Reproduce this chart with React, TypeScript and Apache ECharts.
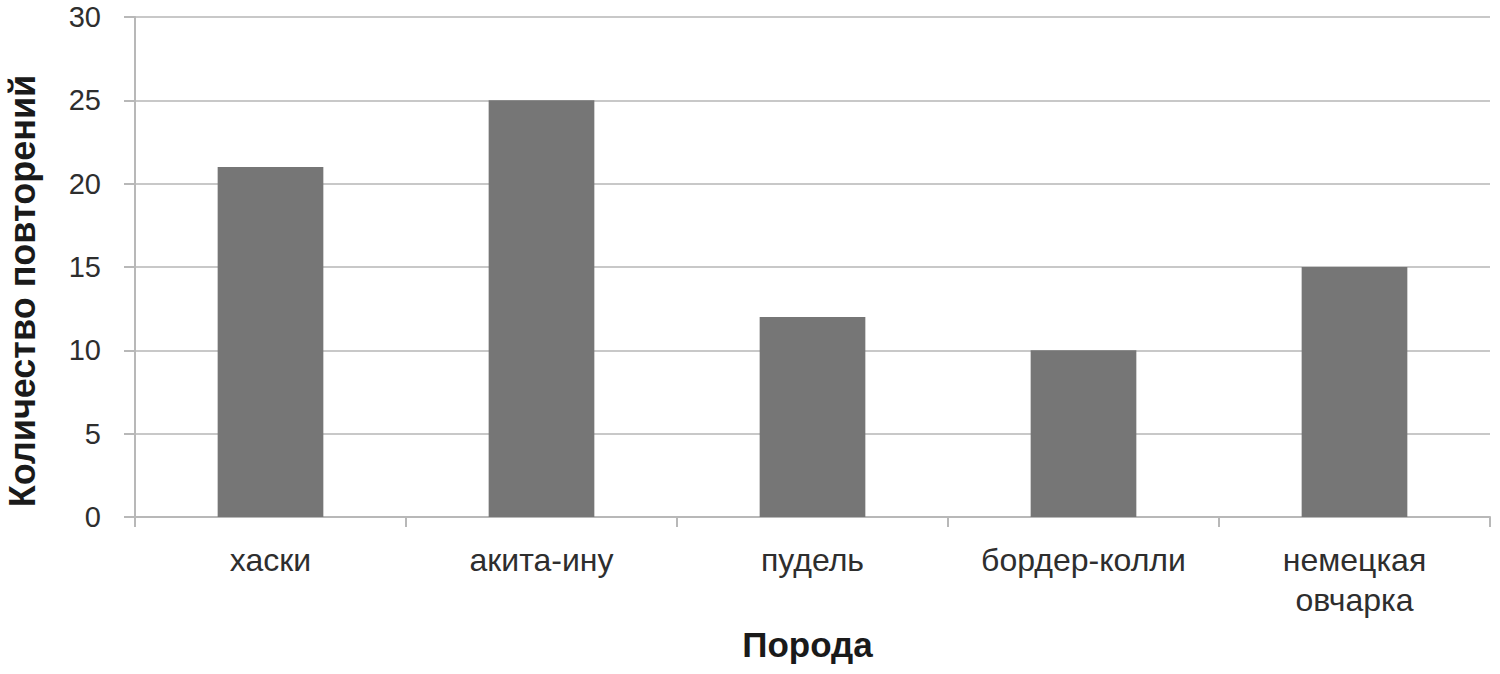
import React, { useEffect, useRef } from "react";
import * as echarts from "echarts";

const categories = ["хаски", "акита-ину", "пудель", "бордер-колли", "немецкая\nовчарка"];
const counts = [21, 25, 12, 10, 15];
const yTicks = [0, 5, 10, 15, 20, 25, 30];

export default function App() {
  const ref = useRef<HTMLDivElement>(null);
  useEffect(() => {
    if (!ref.current) return;
    const chart = echarts.init(ref.current, undefined, { renderer: "svg" });
    chart.setOption({
      animation: false,
      backgroundColor: "#ffffff",
      grid: { left: 135, right: 10, top: 17, bottom: 157, containLabel: false, outerBoundsMode: "none" },
      xAxis: {
        type: "category",
        data: categories,
        boundaryGap: true,
        name: "Порода",
        nameLocation: "middle",
        nameGap: 110,
        nameTextStyle: {
          fontFamily: "Liberation Sans",
          fontSize: 35,
          fontWeight: "bold",
          color: "#1a1a1a",
          padding: [0, 10, 0, 0],
        },
        axisLine: { lineStyle: { color: "#b8b8b8", width: 2 } },
        axisTick: { show: true, alignWithLabel: false, length: 10, lineStyle: { color: "#b8b8b8", width: 2 } },
        axisLabel: {
          fontFamily: "Liberation Sans",
          fontSize: 32,
          color: "#2e2e2e",
          margin: 23,
          lineHeight: 40,
          interval: 0,
        },
      },
      yAxis: {
        type: "value",
        min: yTicks[0],
        max: yTicks[yTicks.length - 1],
        interval: 5,
        name: "Количество повторений",
        nameLocation: "middle",
        nameGap: 95,
        nameRotate: 90,
        nameTextStyle: {
          fontFamily: "Liberation Sans",
          fontSize: 36,
          fontWeight: "bold",
          color: "#1a1a1a",
          lineHeight: 36,
          padding: [0, 48, 0, 0],
        },
        axisLine: { show: true, lineStyle: { color: "#b8b8b8", width: 2 } },
        axisTick: { show: true, length: 11, lineStyle: { color: "#b8b8b8", width: 2 } },
        axisLabel: { fontFamily: "Liberation Sans", fontSize: 29, color: "#2e2e2e", margin: 34 },
        splitLine: { lineStyle: { color: "#c8c8c8", width: 2 } },
      },
      series: [
        {
          type: "bar",
          data: counts,
          barWidth: "39%",
          itemStyle: { color: "#767676" },
        },
      ],
    });
    return () => chart.dispose();
  }, []);
  return (
    <div
      ref={ref}
      style={{ position: "fixed", left: 0, top: 0, width: 1500, height: 674, background: "#fff" }}
    />
  );
}
